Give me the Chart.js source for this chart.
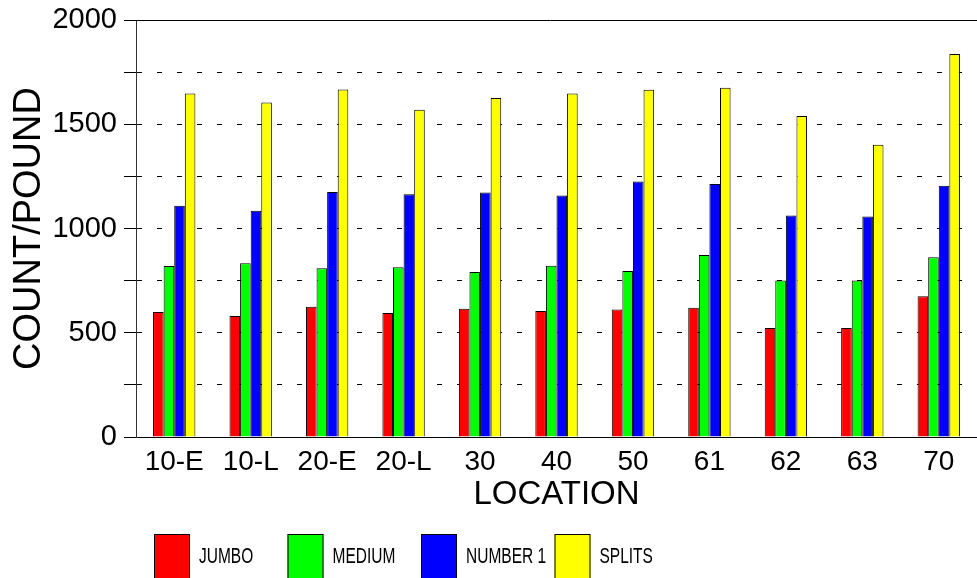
<!DOCTYPE html>
<html>
<head>
<meta charset="utf-8">
<script src="https://cdn.jsdelivr.net/npm/chart.js@4"></script>
<style>
  body { margin: 0; background: #fff; }
  #wrap { width: 977px; height: 578px; }
</style>
</head>
<body>
<div id="wrap"><canvas id="chart" width="977" height="578"></canvas></div>
<script>
const categories = ["10-E", "10-L", "20-E", "20-L", "30", "40", "50", "61", "62", "63", "70"];
const seriesNames = ["JUMBO", "MEDIUM", "NUMBER 1", "SPLITS"];
const jumbo = [600, 580, 625, 595, 615, 604, 611, 620, 523, 523, 675];
const medium = [820, 833, 810, 814, 791, 822, 796, 873, 751, 751, 862];
const number1 = [1109, 1085, 1175, 1165, 1173, 1159, 1226, 1213, 1062, 1058, 1205];
const splits = [1648, 1605, 1667, 1570, 1626, 1648, 1666, 1675, 1540, 1402, 1837];
const yTicks = [0, 500, 1000, 1500, 2000];

const colors = ["#ff0000", "#00ff00", "#0000ff", "#ffff00"];
const FONT = "'Liberation Sans', Arial, sans-serif";

// solid line on top of the plot + legend boxes at fixed spacing
const framePlugin = {
  id: "frame",
  afterDraw(chart) {
    const ctx = chart.ctx;
    const area = chart.chartArea;
    const y = Math.round(chart.scales.y.getPixelForValue(2000)) + 0.5;
    ctx.save();
    ctx.strokeStyle = "#000";
    ctx.lineWidth = 1;
    ctx.beginPath();
    ctx.moveTo(area.left - 12, y);
    ctx.lineTo(area.right, y);
    ctx.stroke();

    // legend
    chart.data.datasets.forEach((ds, i) => {
      const x = 154 + i * 133.5;
      ctx.fillStyle = ds.backgroundColor;
      ctx.fillRect(x, 534, 36, 50);
      ctx.strokeStyle = "#000";
      ctx.strokeRect(x + 0.5, 534.5, 35, 50);
    });
    chart.data.datasets.forEach((ds, i) => {
      const x = 154 + i * 133.5;
      ctx.save();
      ctx.translate(x + 45, 557);
      ctx.scale(1, 1.4);
      ctx.fillStyle = "#000";
      ctx.font = "15.5px " + FONT;
      ctx.textBaseline = "middle";
      ctx.textAlign = "left";
      ctx.fillText(ds.label, 0, 0);
      ctx.restore();
    });
    ctx.restore();
  }
};

const seriesData = [jumbo, medium, number1, splits];

new Chart(document.getElementById("chart"), {
  type: "bar",
  data: {
    labels: categories,
    datasets: seriesNames.map((name, i) => ({
      label: name,
      data: seriesData[i],
      backgroundColor: colors[i],
      borderColor: "#000",
      borderWidth: 1,
      categoryPercentage: 0.554,
      barPercentage: 1
    }))
  },
  options: {
    responsive: false,
    animation: false,
    devicePixelRatio: 1,
    layout: { padding: { left: 0, right: 0, top: 20, bottom: 63 } },
    plugins: {
      legend: { display: false },
      tooltip: { enabled: false }
    },
    scales: {
      x: {
        grid: { display: false, drawTicks: false },
        border: { display: true, color: "#000", width: 1 },
        ticks: {
          color: "#000",
          padding: 8,
          maxRotation: 0,
          autoSkip: false,
          font: { family: FONT, size: 28 }
        },
        title: {
          display: true,
          text: "LOCATION",
          color: "#000",
          padding: { top: 0, bottom: 0 },
          font: { family: FONT, size: 33 }
        },
        afterFit(scale) { scale.height = 78; }
      },
      y: {
        min: 0,
        max: 2000,
        grid: {
          color: (c) => (c.tick && c.tick.value === 2000 ? "rgba(0,0,0,0)" : "#000"),
          tickColor: "#000",
          tickLength: 12,
          tickBorderDash: [],
          lineWidth: 1
        },
        border: { display: true, color: "#333", width: 1, dash: [5, 15], dashOffset: 0 },
        ticks: {
          stepSize: 250,
          color: "#000",
          padding: 7,
          font: { family: FONT, size: 29, lineHeight: 0.9 },
          callback: (v) => (yTicks.includes(v) ? String(v) : "")
        },
        title: {
          display: true,
          text: "COUNT/POUND",
          color: "#000",
          padding: { top: 7, bottom: 0 },
          font: { family: FONT, size: 38 }
        },
        afterFit(scale) { scale.width = 136; }
      }
    }
  },
  plugins: [framePlugin]
});
</script>
</body>
</html>
